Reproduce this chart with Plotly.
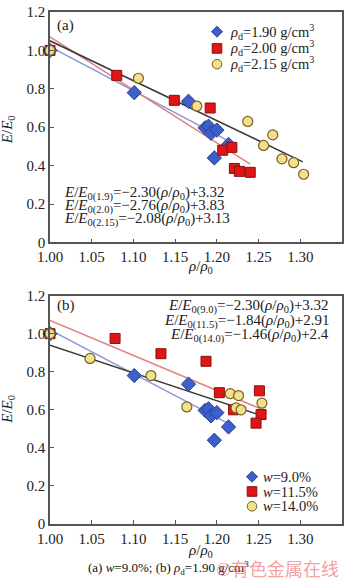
import plotly.graph_objects as go

# ---------------- data ----------------
# Panel (a): different dry densities
a_blue_x = [1.00, 1.101, 1.166, 1.186, 1.190, 1.193, 1.200, 1.214, 1.197]
a_blue_y = [1.00, 0.78, 0.735, 0.597, 0.605, 0.568, 0.585, 0.51, 0.44]
a_red_x = [1.00, 1.080, 1.149, 1.192, 1.207, 1.218, 1.221, 1.227, 1.240]
a_red_y = [1.00, 0.87, 0.74, 0.70, 0.48, 0.495, 0.385, 0.37, 0.365]
a_yel_x = [1.00, 1.106, 1.176, 1.237, 1.267, 1.256, 1.278, 1.292, 1.304]
a_yel_y = [1.00, 0.855, 0.71, 0.63, 0.56, 0.505, 0.435, 0.415, 0.355]

a_names = ["<i>ρ</i><sub>d</sub>=1.90 g/cm<sup>3</sup>",
           "<i>ρ</i><sub>d</sub>=2.00 g/cm<sup>3</sup>",
           "<i>ρ</i><sub>d</sub>=2.15 g/cm<sup>3</sup>"]
a_slope = [-2.30, -2.76, -2.08]
a_icpt = [3.32, 3.83, 3.13]
a_xend = [1.216, 1.240, 1.303]
a_eq_tags = ["0(1.9)", "0(2.0)", "0(2.15)"]
a_eq_icpt_txt = ["3.32", "3.83", "3.13"]

# Panel (b): different water contents
b_blue_x = a_blue_x
b_blue_y = a_blue_y
b_red_x = [1.00, 1.078, 1.133, 1.187, 1.203, 1.251, 1.220, 1.253, 1.247]
b_red_y = [1.00, 0.975, 0.895, 0.855, 0.69, 0.70, 0.60, 0.575, 0.53]
b_yel_x = [1.00, 1.048, 1.121, 1.164, 1.216, 1.226, 1.254, 1.223, 1.229]
b_yel_y = [1.00, 0.87, 0.78, 0.615, 0.685, 0.675, 0.635, 0.61, 0.60]

b_names = ["<i>w</i>=9.0%", "<i>w</i>=11.5%", "<i>w</i>=14.0%"]
b_slope = [-2.30, -1.84, -1.46]
b_icpt = [3.32, 2.91, 2.4]
b_xend = [1.214, 1.252, 1.252]
b_eq_tags = ["0(9.0)", "0(11.5)", "0(14.0)"]
b_eq_icpt_txt = ["3.32", "2.91", "2.4"]

x_ticks = [1.00, 1.05, 1.10, 1.15, 1.20, 1.25, 1.30, 1.35]
y_ticks = [0, 0.2, 0.4, 0.6, 0.8, 1.0, 1.2]
y_tick_text = ["0", "0.2", "0.4", "0.6", "0.8", "1.0", "1.2"]

# ---------------- style ----------------
FONT = "Liberation Serif"
PL, PT, PW, PH = 50, 4, 292, 520   # plot area in pixels


def px2paper(px, py):
    return (px - PL) / PW, (PT + PH - py) / PH


line_colors = ["#8c98d4", "#e08080", "#3a3a3a"]
fills = ["#3d5fcc", "#e01515", "#f2e08c"]
edges = ["#2a3f8f", "#8a0f0f", "#7a6020"]
mk_styles = [
    dict(symbol="diamond", size=11, color=fills[0], line=dict(color=edges[0], width=1)),
    dict(symbol="square", size=10, color=fills[1], line=dict(color=edges[1], width=1)),
    dict(symbol="circle", size=10, color=fills[2], line=dict(color=edges[2], width=1.2)),
]

fig = go.Figure()


def add_panel(xa, ya, xs, ys, names, slopes, icpts, xends):
    for k in range(3):
        x0, x1 = 1.0, xends[k]
        fig.add_trace(go.Scatter(
            x=[x0, x1], y=[slopes[k] * x0 + icpts[k], slopes[k] * x1 + icpts[k]],
            mode="lines", line=dict(color=line_colors[k], width=1.5),
            xaxis=xa, yaxis=ya, showlegend=False, hoverinfo="skip"))
    for k in range(3):
        fig.add_trace(go.Scatter(
            x=xs[k], y=ys[k], mode="markers", marker=mk_styles[k], name=names[k],
            xaxis=xa, yaxis=ya, showlegend=False, cliponaxis=False))


add_panel("x", "y", [a_blue_x, a_red_x, a_yel_x], [a_blue_y, a_red_y, a_yel_y],
          a_names, a_slope, a_icpt, a_xend)
add_panel("x2", "y2", [b_blue_x, b_red_x, b_yel_x], [b_blue_y, b_red_y, b_yel_y],
          b_names, b_slope, b_icpt, b_xend)

axis_common = dict(showline=True, linecolor="#555", linewidth=1.5, mirror=True,
                   ticks="inside", ticklen=4, tickcolor="#555", showgrid=False, zeroline=False,
                   tickfont=dict(family=FONT, size=15, color="#222"))

fig.update_layout(
    width=350, height=580,
    margin=dict(l=PL, r=350 - PL - PW, t=PT, b=580 - PT - PH),
    paper_bgcolor="white", plot_bgcolor="white",
    font=dict(family=FONT, color="#222"),
    showlegend=False,
    xaxis=dict(domain=[0, 1], anchor="y", range=[1.0, 1.35], tickvals=x_ticks,
               tickformat=".2f", **axis_common),
    yaxis=dict(domain=[0.55, 1], anchor="x", range=[0, 1.2], tickvals=y_ticks,
               ticktext=y_tick_text, **axis_common),
    xaxis2=dict(domain=[0, 1], anchor="y2", range=[1.0, 1.35], tickvals=x_ticks,
                tickformat=".2f", **axis_common),
    yaxis2=dict(domain=[0, 0.446], anchor="x2", range=[0, 1.2], tickvals=y_ticks,
                ticktext=y_tick_text, **axis_common),
)

ann = []
shapes = []

# ---- manual legends (symbol shapes + text) ----
def legend_block(sym_px, text_px, rows_py, names):
    for k, py in enumerate(rows_py):
        cx, cy = px2paper(sym_px, py)
        common = dict(xref="paper", yref="paper", xsizemode="pixel", ysizemode="pixel",
                      xanchor=cx, yanchor=cy, fillcolor=fills[k],
                      line=dict(color=edges[k], width=1))
        if k == 0:
            shapes.append(dict(type="path", path="M 0 5.5 L 5.5 0 L 0 -5.5 L -5.5 0 Z", **common))
        elif k == 1:
            shapes.append(dict(type="rect", x0=-4.8, x1=4.8, y0=-4.8, y1=4.8, **common))
        else:
            shapes.append(dict(type="circle", x0=-4.8, x1=4.8, y0=-4.8, y1=4.8, **common))
        tx, ty = px2paper(text_px, py)
        ann.append(dict(text=names[k], x=tx, y=ty, xref="paper", yref="paper",
                        xanchor="left", yanchor="middle", showarrow=False,
                        font=dict(family=FONT, size=14.5, color="#222")))


legend_block(217, 228, [24, 41, 57], a_names)
legend_block(252, 261, [476, 491, 506], b_names)

# panel labels
for lab, py in [("(a)", 18), ("(b)", 302)]:
    lx, ly = px2paper(55, py)
    ann.append(dict(text=lab, x=lx, y=ly, xref="paper", yref="paper", xanchor="left",
                    yanchor="middle", showarrow=False, font=dict(family=FONT, size=15)))

# equations panel (a)
for k, py in enumerate([188, 201.5, 215]):
    sgn = "−" if a_slope[k] < 0 else ""
    txt = (f"<i>E</i>/<i>E</i><sub>{a_eq_tags[k]}</sub>={sgn}{abs(a_slope[k]):.2f}"
           f"(<i>ρ</i>/<i>ρ</i><sub>0</sub>)+{a_eq_icpt_txt[k]}")
    ex, ey = px2paper(62, py)
    ann.append(dict(text=txt, x=ex, y=ey, xref="paper", yref="paper",
                    xanchor="left", yanchor="middle", showarrow=False,
                    font=dict(family=FONT, size=15)))
# equations panel (b)
for k, py in enumerate([303, 318, 333]):
    sgn = "−" if b_slope[k] < 0 else ""
    txt = (f"<i>E</i>/<i>E</i><sub>{b_eq_tags[k]}</sub>={sgn}{abs(b_slope[k]):.2f}"
           f"(<i>ρ</i>/<i>ρ</i><sub>0</sub>)+{b_eq_icpt_txt[k]}")
    ex, ey = px2paper(331, py)
    ann.append(dict(text=txt, x=ex, y=ey, xref="paper", yref="paper",
                    xanchor="right", yanchor="middle", showarrow=False,
                    font=dict(family=FONT, size=15)))

# axis titles
for py in [263, 551]:
    tx, ty = px2paper(200, py)
    ann.append(dict(text="<i>ρ</i>/<i>ρ</i><sub>0</sub>", x=tx, y=ty,
                    xref="paper", yref="paper", xanchor="center", yanchor="middle",
                    showarrow=False, font=dict(family=FONT, size=15)))
for py in [124, 408]:
    tx, ty = px2paper(8, py)
    ann.append(dict(text="<i>E</i>/<i>E</i><sub>0</sub>", x=tx, y=ty,
                    xref="paper", yref="paper", xanchor="center", yanchor="middle",
                    textangle=-90, showarrow=False, font=dict(family=FONT, size=15)))

# caption and watermark
cx, cy = px2paper(168, 569)
ann.append(dict(text="(a) <i>w</i>=9.0%; (b) <i>ρ</i><sub>d</sub>=1.90 g/cm<sup>3</sup>",
                x=cx, y=cy, xref="paper", yref="paper",
                xanchor="center", yanchor="middle", showarrow=False,
                font=dict(family=FONT, size=13, color="#111")))
wx, wy = px2paper(341, 569)
ann.append(dict(text="©有色金属在线", x=wx, y=wy,
                xref="paper", yref="paper", xanchor="right", yanchor="middle",
                showarrow=False, font=dict(family="Noto Sans CJK SC", size=18,
                                           color="rgba(235,120,120,0.7)")))

fig.update_layout(annotations=ann, shapes=shapes)
fig.write_html("out.html")
